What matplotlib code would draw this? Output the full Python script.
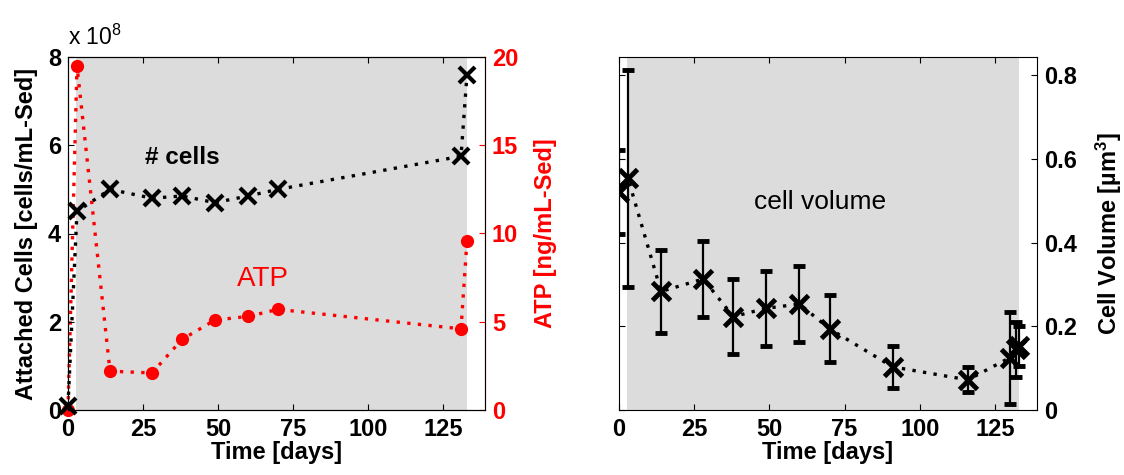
import numpy as np
import matplotlib
matplotlib.use("Agg")
import matplotlib.pyplot as plt

plt.rcParams['font.family'] = ['Liberation Sans', 'DejaVu Sans']
plt.rcParams['font.weight'] = 'bold'
plt.rcParams['axes.labelweight'] = 'bold'
plt.rcParams['mathtext.default'] = 'regular'

# attached cells and ATP (left panel)
days_cells = [0, 3, 14, 28, 38, 49, 60, 70, 131, 133]
cells = [0.1e8, 4.5e8, 5.0e8, 4.8e8, 4.85e8, 4.7e8, 4.85e8, 5.0e8, 5.75e8, 7.6e8]
atp = [0.0, 19.5, 2.2, 2.1, 4.0, 5.1, 5.3, 5.7, 4.6, 9.6]

# cell volume (right panel)
days_vol = [0, 3, 14, 28, 38, 49, 60, 70, 91, 116, 130, 132, 133]
volume = [0.52, 0.553, 0.283, 0.313, 0.223, 0.243, 0.253, 0.194, 0.103, 0.072, 0.125, 0.145, 0.152]
volume_err = [0.10, 0.26, 0.10, 0.09, 0.09, 0.09, 0.09, 0.08, 0.05, 0.03, 0.11, 0.065, 0.048]

shade = (2.5, 133)
dots = (0, (1, 2.2))
fs = 17

fig = plt.figure(figsize=(11.24, 4.75), dpi=100)

# ---- left panel ----
ax1 = fig.add_axes([68 / 1124, 65 / 475, 417 / 1124, 353 / 475])
ax1b = ax1.twinx()
ax1.set_zorder(ax1b.get_zorder() + 1)
ax1.patch.set_visible(False)

ax1b.axvspan(shade[0], shade[1], color='#dcdcdc', zorder=0, lw=0)
ax1b.plot(days_cells, atp, color='red', linestyle=dots, lw=2.4,
          marker='o', ms=8.5, zorder=3, clip_on=False)
ax1b.set_ylim(0, 20)
ax1b.set_yticks([0, 5, 10, 15, 20])
ax1b.tick_params(direction='in', length=4, labelsize=fs, colors='red', pad=5)
ax1b.spines['right'].set_color('red')
ax1b.set_ylabel('ATP [ng/mL-Sed]', fontsize=fs, color='red', labelpad=11)
ax1b.text(65, 7.4, 'ATP', fontsize=20, color='red', fontweight='normal',
          ha='center', va='center')

ax1.plot(days_cells, np.array(cells) / 1e8, color='black', linestyle=dots, lw=2.4,
         marker='x', ms=11, mew=3, zorder=3, clip_on=False)
ax1.set_xlim(0, 139)
ax1.set_ylim(0, 8)
ax1.set_xticks([0, 25, 50, 75, 100, 125])
ax1.set_yticks([0, 2, 4, 6, 8])
ax1.tick_params(direction='in', length=4, labelsize=fs, top=True, pad=5)
ax1.tick_params(axis='x', pad=6)
ax1.set_xlabel('Time [days]', fontsize=fs, labelpad=0)
ax1.set_ylabel('Attached Cells [cells/mL-Sed]', fontsize=fs, labelpad=7)
ax1.text(0.0, 1.02, 'x 10$^{8}$', transform=ax1.transAxes, fontsize=16.5,
         fontweight='normal', ha='left', va='bottom')
ax1.text(38, 5.72, '# cells', fontsize=17.5, ha='center', va='center')

# ---- right panel ----
ax2 = fig.add_axes([619 / 1124, 65 / 475, 418 / 1124, 353 / 475])
ax2.axvspan(shade[0], shade[1], color='#dcdcdc', zorder=0, lw=0)
ax2.errorbar(days_vol, volume, yerr=volume_err, color='black', linestyle=dots, lw=2.4,
             marker='x', ms=13, mew=3.5, elinewidth=1.6, capsize=4, capthick=1.4,
             ecolor='black', zorder=3)
ax2.set_xlim(0, 139)
ax2.set_ylim(0, 0.843)
ax2.set_xticks([0, 25, 50, 75, 100, 125])
ax2.set_yticks([0, 0.2, 0.4, 0.6, 0.8])
ax2.set_yticklabels(['0', '0.2', '0.4', '0.6', '0.8'])
ax2.tick_params(direction='in', length=4, labelsize=fs, top=True, left=True,
                right=True, labelleft=False, labelright=True, pad=5)
ax2.tick_params(axis='x', pad=6)
ax2.yaxis.set_label_position('right')
ax2.set_xlabel('Time [days]', fontsize=fs, labelpad=0)
ax2.set_ylabel('Cell Volume [µm$^3$]', fontsize=fs, labelpad=12)
ax2.text(66.7, 0.497, 'cell volume', fontsize=19, fontweight='normal',
         ha='center', va='center')

fig.savefig('out.png', dpi=100)
